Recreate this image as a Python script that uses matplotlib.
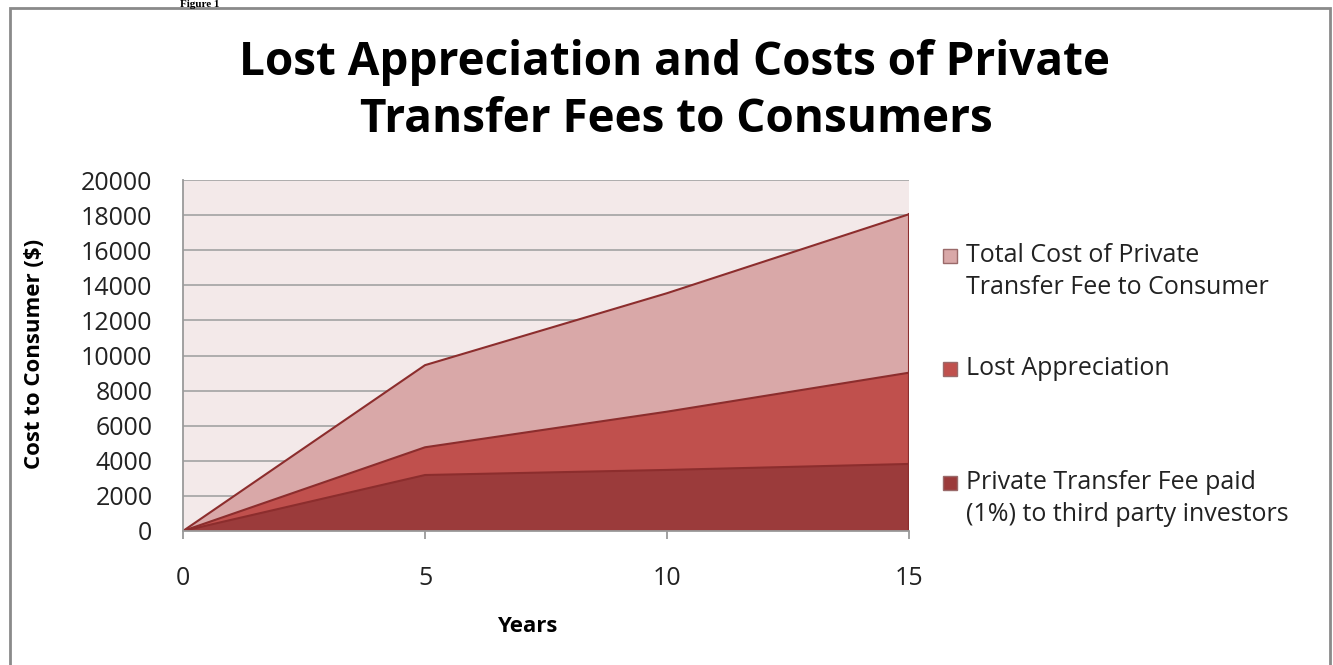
import matplotlib.pyplot as plt
from matplotlib.patches import Rectangle

plt.rcParams["font.family"] = ["Open Sans", "DejaVu Sans"]

# data
years = [0, 5, 10, 15]
total_cost = [0, 9450, 13550, 18050]
lost_appreciation = [0, 4770, 6800, 9020]
transfer_fee = [0, 3190, 3480, 3820]

series_labels = [
    "Total Cost of Private\nTransfer Fee to Consumer",
    "Lost Appreciation",
    "Private Transfer Fee paid\n(1%) to third party investors",
]
fill_colors = ["#D9A8A8", "#C0504D", "#9B3B3B"]
edge_color = "#8C2D2D"

W, H = 1333, 665


def px(x, y):
    """pixel position -> figure fraction"""
    return x / W, 1 - y / H


fig = plt.figure(figsize=(W / 100, H / 100), dpi=100)
fig.patch.set_facecolor("white")

# outer frame
fig.add_artist(Rectangle(px(10, 668), (1330 - 10) / W, (668 - 8) / H,
                         transform=fig.transFigure, fill=False,
                         edgecolor="#8A8A8A", lw=2))
fig.text(*px(200, 9), "Figure 1", family="Liberation Serif", fontweight="bold",
         fontsize=8, ha="center", va="bottom")

ax = fig.add_axes([183 / W, 1 - 531 / H, (909 - 183) / W, (531 - 180) / H])
ax.set_facecolor("#F3E9E9")

for vals, col in zip([total_cost, lost_appreciation, transfer_fee], fill_colors):
    ax.fill_between(years, 0, vals, facecolor=col, edgecolor="none", zorder=3)
    ax.plot(years, vals, color=edge_color, lw=1.5, zorder=4)
    ax.plot([years[-1], years[-1]], [0, vals[-1]], color=edge_color, lw=1.5, zorder=4)

ax.set_xlim(0, 15)
ax.set_ylim(0, 20000)
ax.set_xticks([0, 5, 10, 15])
ax.set_yticks(range(0, 20001, 2000))
ax.yaxis.grid(True, color="#A8A8A8", lw=1.3, zorder=1)
ax.set_axisbelow(True)
for s in ["top", "right"]:
    ax.spines[s].set_visible(False)
for s in ["left", "bottom"]:
    ax.spines[s].set_color("#9A9A9A")
    ax.spines[s].set_linewidth(1.3)
    ax.spines[s].set_zorder(5)
ax.tick_params(axis="y", length=0, pad=22, labelsize=18, labelcolor="#222222")
ax.tick_params(axis="x", length=6, width=1.3, color="#9A9A9A", pad=19,
               labelsize=18, labelcolor="#222222")

# titles and axis labels
fig.text(*px(675, 62), "Lost Appreciation and Costs of Private", fontsize=33,
         fontweight="bold", ha="center", va="center")
fig.text(*px(676, 120), "Transfer Fees to Consumers", fontsize=33,
         fontweight="bold", ha="center", va="center")
fig.text(*px(35, 354), "Cost to Consumer ($)", rotation=90, fontsize=16,
         fontweight="bold", ha="center", va="center")
fig.text(*px(527, 627), "Years", fontsize=16, fontweight="bold",
         ha="center", va="center")

# legend drawn by hand to keep the wide spacing of the original
legend_y = [256, 369, 483]
for lab, col, y in zip(series_labels, fill_colors, legend_y):
    fig.add_artist(Rectangle(px(943, y + 7), 14 / W, 14 / H, transform=fig.transFigure,
                             facecolor=col, edgecolor="#9A6A6A", lw=1))
    fig.text(*px(966, y - 13), lab, fontsize=18, ha="left", va="top",
             linespacing=1.38, color="#222222")

fig.savefig("out.png", dpi=100)
